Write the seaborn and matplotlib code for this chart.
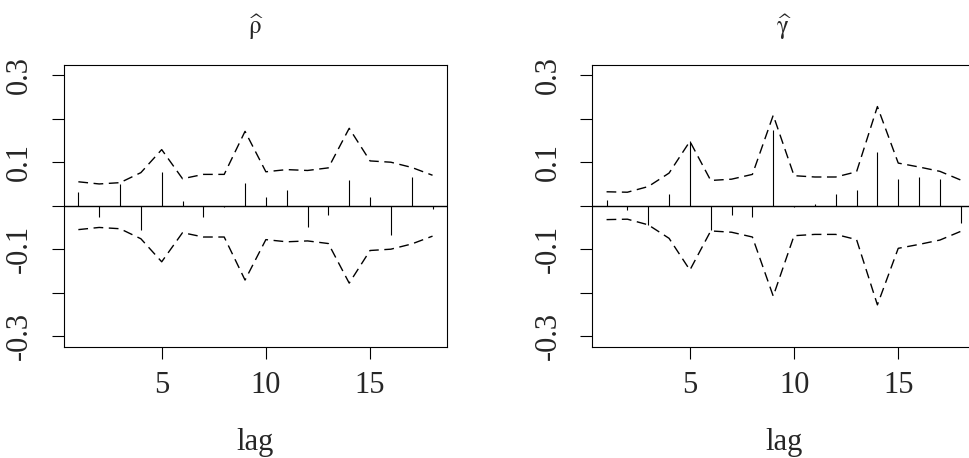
import numpy as np
import pandas as pd
import matplotlib
matplotlib.use("Agg")
import matplotlib.pyplot as plt
import seaborn as sns

# Valores (lags 1..18)
lags = list(range(1, 19))

rho_hat = [0.032, -0.025, 0.050, -0.055, 0.077, 0.010, -0.027, -0.004, 0.052,
           0.020, 0.037, -0.048, -0.021, 0.058, 0.020, -0.068, 0.065, -0.008]
rho_band = [0.055, 0.050, 0.053, 0.076, 0.129, 0.062, 0.072, 0.072, 0.171,
            0.078, 0.083, 0.081, 0.087, 0.178, 0.103, 0.100, 0.088, 0.070]

gamma_hat = [0.012, -0.010, -0.045, 0.026, 0.149, -0.057, -0.021, -0.027, 0.173,
             -0.003, 0.005, 0.028, 0.036, 0.123, 0.062, 0.065, 0.062, -0.040]
gamma_band = [0.032, 0.031, 0.044, 0.075, 0.148, 0.058, 0.061, 0.072, 0.208,
              0.069, 0.066, 0.066, 0.078, 0.228, 0.098, 0.089, 0.079, 0.059]

y_ticks = [-0.3, -0.2, -0.1, 0.0, 0.1, 0.2, 0.3]
y_tick_labels = ["-0.3", "", "-0.1", "", "0.1", "", "0.3"]
x_ticks = [5, 10, 15]
titles = [r"$\widehat{\mathrm{\rho}}$", r"$\widehat{\mathrm{\gamma}}$"]

sns.set_style("ticks")
plt.rcParams['font.family'] = ['Liberation Serif', 'DejaVu Serif']
plt.rcParams['mathtext.fontset'] = 'stix'

W, H = 969, 458


def painel(fig, left_px, valores, banda, titulo):
    """Desenha um painel no estilo acf do R: hastes, faixa tracejada e linha zero."""
    ax = fig.add_axes([left_px / W, (H - 346.6) / H, 382.5 / W, (346.6 - 64.8) / H])
    df = pd.DataFrame({'lag': lags, 'valor': valores,
                       'sup': banda, 'inf': [-b for b in banda]})

    ax.vlines(df['lag'], 0, df['valor'], color='black', lw=0.8)
    for col in ['sup', 'inf']:
        sns.lineplot(data=df, x='lag', y=col, ax=ax, color='black', lw=1.0,
                     dashes=False, linestyle=(0, (7, 4)))
    ax.axhline(0, color='black', lw=1.0)

    ax.set_xlim(0.32, 18.68)
    ax.set_ylim(-0.324, 0.324)
    ax.set_xticks(x_ticks)
    ax.set_yticks(y_ticks)
    ax.set_yticklabels(y_tick_labels, rotation=90, va='center')
    ax.tick_params(axis='both', labelsize=22, length=8.6, width=0.8, color='black')
    ax.tick_params(axis='x', pad=9)
    ax.tick_params(axis='y', pad=13)
    for s in ax.spines.values():
        s.set_visible(True)
        s.set_linewidth(0.8)
        s.set_color('black')
    ax.set_xlabel('lag', fontsize=22, labelpad=20)
    ax.set_ylabel('')
    ax.set_title(titulo, fontsize=18, pad=22)
    return ax


fig = plt.figure(figsize=(W / 100, H / 100), dpi=100)
painel(fig, 64.2, rho_hat, rho_band, titles[0])
painel(fig, 592.4, gamma_hat, gamma_band, titles[1])
fig.savefig('out.png', dpi=100)
